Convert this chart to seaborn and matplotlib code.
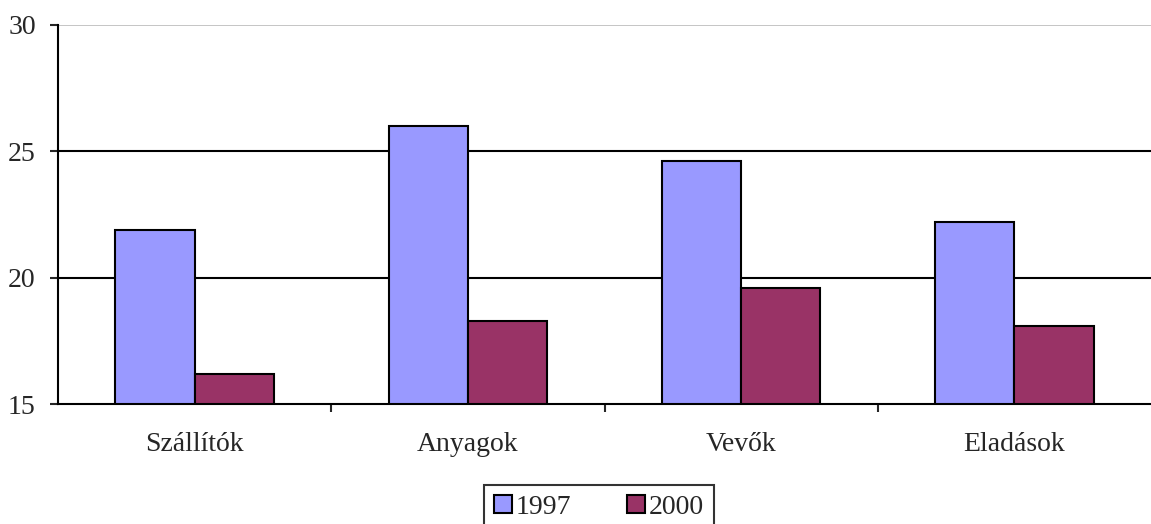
import numpy as np
import pandas as pd
import matplotlib
matplotlib.use('Agg')
import matplotlib.pyplot as plt
import seaborn as sns

categories = ['Szállítók', 'Anyagok', 'Vevők', 'Eladások']
years = ['1997', '2000']
values_1997 = [21.9, 26.0, 24.6, 22.2]
values_2000 = [16.2, 18.3, 19.6, 18.1]

df = pd.DataFrame({
    'kategoria': categories * 2,
    'ev': [years[0]] * 4 + [years[1]] * 4,
    'ertek': values_1997 + values_2000,
})

sns.set_style('white')
plt.rcParams['font.family'] = ['Liberation Serif', 'DejaVu Serif']

fig = plt.figure(figsize=(11.51, 5.24), dpi=100)
ax = fig.add_axes([58 / 1151, 120 / 524, 1 - 58 / 1151, 379 / 524])

palette = {'1997': '#9999FF', '2000': '#993366'}
sns.barplot(data=df, x='kategoria', y='ertek', hue='ev', order=categories,
            hue_order=years, palette=palette, width=0.58, gap=0,
            edgecolor='black', linewidth=1.5, saturation=1, ax=ax, legend=True)

ax.set_ylim(15, 30)
ax.set_xlim(-0.5, 3.5)
ax.set_yticks([15, 20, 25, 30])
for y in [20, 25]:
    ax.axhline(y, color='black', lw=1.5, zorder=0)
ax.axhline(30, color='#bbbbbb', lw=1.2, zorder=0)

for s in ['top', 'right']:
    ax.spines[s].set_visible(False)
ax.spines['left'].set_linewidth(1.5)
ax.spines['bottom'].set_linewidth(1.5)
ax.spines['left'].set_color('black')
ax.spines['bottom'].set_color('black')

ax.set_xlabel('')
ax.set_ylabel('')
ax.tick_params(axis='y', left=True, length=6, width=1.5, labelsize=20, pad=10)
ax.tick_params(axis='x', bottom=False, labelsize=20, pad=17)
ax.set_xticks([0.5, 1.5, 2.5], minor=True)
ax.tick_params(axis='x', which='minor', bottom=True, length=6, width=1.5, direction='out')

leg = ax.legend(loc='upper center', bbox_to_anchor=(0.495, -0.214), ncol=2,
                frameon=True, fancybox=False, fontsize=20, handlelength=0.65,
                handleheight=0.65, handletextpad=0.15, columnspacing=2.0,
                borderpad=0.35, borderaxespad=0)
leg.get_frame().set_edgecolor('black')
leg.get_frame().set_linewidth(1.5)
for h in leg.legend_handles:
    h.set_edgecolor('black')
    h.set_linewidth(1.5)

fig.savefig('out.png', dpi=100)
